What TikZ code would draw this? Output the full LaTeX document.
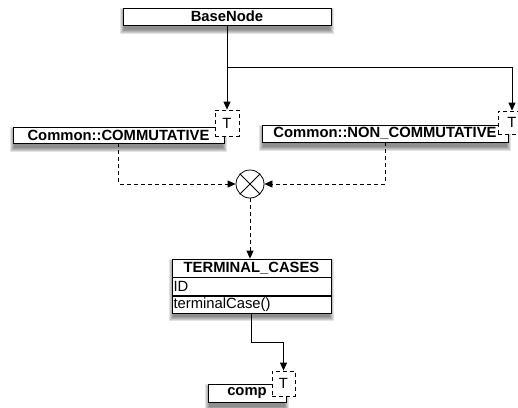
\documentclass[tikz,border=0pt]{standalone}
\usepackage{fontspec}
\setmainfont{Liberation Sans}
\usetikzlibrary{arrows.meta,calc}
\begin{document}
\begin{tikzpicture}[x=1pt,y=-1pt,line width=0.8pt,
  cls/.style={draw=black,fill=white,inner sep=0pt,font=\fontsize{14.8}{16}\selectfont\bfseries},
  rowbox/.style={draw=black,fill=white,inner xsep=1.5pt,inner ysep=0pt,text width=156pt,align=left,font=\fontsize{14.8}{16}\selectfont},
  tbox/.style={draw=black,fill=white,dashed,dash pattern=on 4pt off 3pt,inner sep=0pt,font=\fontsize{14.8}{16}\selectfont},
  arr/.style={draw=black,-{Triangle[length=8pt,width=7pt]}},
  darr/.style={arr,dash pattern=on 4pt off 3pt},
  shd/.style={fill=black,opacity=0.11}]
\useasboundingbox (0,0) rectangle (518,407);
% soft shadows
\foreach \a/\b/\c/\d in {123/8/331/25,13/127/224/143,262/125/508/142,172/259/331/312,208/384/286/402}{
  \foreach \k in {0,1,2,3,4}{
    \fill[shd] (\a-\k+1,\b+4-\k) rectangle (\c+\k-1,\d+5+\k);
  }
}
\node[cls,minimum width=208pt,minimum height=17pt] (base) at (227,16.5) {BaseNode};
\node[cls,minimum width=211pt,minimum height=16pt] (comm) at (118.5,135) {Common::COMMUTATIVE};
\node[tbox,minimum width=24pt,minimum height=26pt] (commT) at (227,123) {T};
\node[cls,minimum width=246pt,minimum height=17pt] (non) at (385,133.5) {Common::NON\_COMMUTATIVE};
\node[tbox,minimum width=28pt,minimum height=23pt] (nonT) at (512,122.5) {T};
\node[draw=black,circle,minimum size=28pt,inner sep=0pt] (op) at (250,184) {};
\draw (op.north west) -- (op.south east) (op.north east) -- (op.south west);
\node[cls,minimum width=159pt,minimum height=18pt] (tc) at (251.5,268) {TERMINAL\_CASES};
\node[rowbox,minimum height=17.5pt,anchor=north west] (tcid) at (tc.south west) {ID};
\node[rowbox,minimum height=17.5pt,anchor=north west] (tcm) at (tcid.south west) {terminalCase()};
\node[cls,minimum width=78pt,minimum height=18pt] (comp) at (247,393) {comp};
\node[tbox,minimum width=23pt,minimum height=25pt] (compT) at (283.5,383.5) {T};
% connectors
\draw[arr] (base.south) -- (commT.north);
\draw[arr] (base.south) -- ++(0,42) -| (nonT.north);
\draw[darr] (comm.south) |- (op.west);
\draw[darr] (non.south) |- (op.east);
\draw[darr] (op.south) -- (op.south |- tc.north);
\draw[arr] (tcm.south) -- ++(0,28) -| (compT.north);
\end{tikzpicture}
\end{document}
